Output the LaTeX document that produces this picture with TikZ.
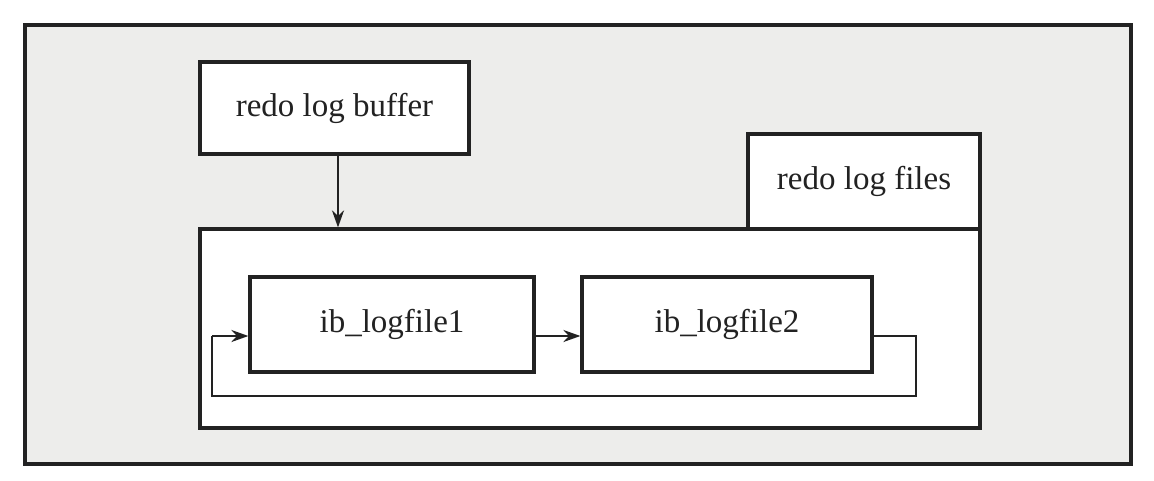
\documentclass[tikz,border=0pt]{standalone}
\usepackage{fontspec}
\setmainfont{Liberation Serif}
\usetikzlibrary{arrows.meta}
\definecolor{ink}{HTML}{222222}
\definecolor{panel}{HTML}{EDEDEB}
\begin{document}
\begin{tikzpicture}[x=1pt,y=-1pt,
  box/.style={draw=ink,line width=3.2pt,fill=white,inner sep=0pt,
    font=\fontsize{33}{40}\selectfont,text=ink},
  arr/.style={draw=ink,line width=2.4pt,-{Stealth[length=17pt,width=12pt]}},
  loopline/.style={draw=ink,line width=2.6pt}]
\useasboundingbox (0,0) rectangle (1154,480);
\fill[white] (0,0) rectangle (1154,480);
\node[draw=ink,line width=3.2pt,fill=panel,minimum width=1106pt,minimum height=439pt,inner sep=0pt] (outer) at (578,244.5) {};
\node[box,minimum width=780pt,minimum height=199pt] (big) at (590,328.5) {};
\node[box,minimum width=232pt,minimum height=95pt] (files) at (864,181.5) {redo log files};
\node[box,minimum width=269pt,minimum height=92pt] (buf) at (334.5,108) {redo log buffer};
\node[box,minimum width=284pt,minimum height=95pt] (ib1) at (392,324.5) {ib\_logfile1};
\node[box,minimum width=290pt,minimum height=95pt] (ib2) at (727,324.5) {ib\_logfile2};
\draw[arr] ([xshift=3.5pt]buf.south) -- ([xshift=3.5pt]buf.south |- big.north);
\draw[arr] ([yshift=-11.5pt]ib1.east) -- ([yshift=-11.5pt]ib2.west);
\coordinate (lr) at (916,396);
\coordinate (ll) at (212,396);
\coordinate (lt) at (212,336);
\draw[loopline,line join=miter] ([yshift=-11.5pt]ib2.east) -| (lr) -- (ll) -- (lt);
\draw[arr] (lt) -- ([yshift=-11.5pt]ib1.west);
\end{tikzpicture}
\end{document}
